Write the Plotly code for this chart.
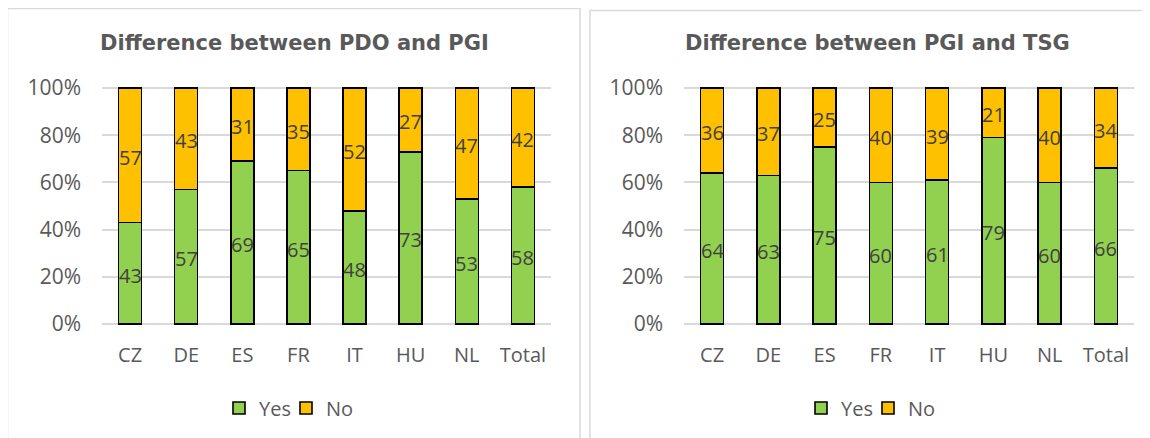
import plotly.graph_objects as go

categories = ["CZ", "DE", "ES", "FR", "IT", "HU", "NL", "Total"]
left_title = "Difference between PDO and PGI"
left_yes = [43, 57, 69, 65, 48, 73, 53, 58]
left_no = [57, 43, 31, 35, 52, 27, 47, 42]
right_title = "Difference between PGI and TSG"
right_yes = [64, 63, 75, 60, 61, 79, 60, 66]
right_no = [36, 37, 25, 40, 39, 21, 40, 34]
y_ticks = [0, 20, 40, 60, 80, 100]
y_tick_text = ["0%", "20%", "40%", "60%", "80%", "100%"]

W, H = 1150, 438
OFF = 8  # page body margin offset
GREEN = "#92D050"
YELLOW = "#FFC000"
TXT = "#595959"
LBL = "#404040"
GRID = "#D9D9D9"
TICK_FONT = dict(family="Open Sans", size=21, color=TXT)
XTICK_FONT = dict(family="Open Sans", size=20, color=TXT)
LBL_FONT = dict(family="Open Sans", size=20, color=LBL)


def px_x(v):
    return (v - OFF) / W


def px_y(v):
    return 1 - (v - OFF) / H


y0_px, y100_px = 324, 88
ymax = 102
ymin = -0.6
unit = (y0_px - y100_px) / 100
ytop_px = y0_px - unit * ymax
ybot_px = y0_px - unit * ymin
panels = [
    dict(cx=294, lx=286, yes=left_yes, no=left_no, title=left_title, ax="x", ay="y", leg="legend"),
    dict(cx=877, lx=868, yes=right_yes, no=right_no, title=right_title, ax="x2", ay="y2", leg="legend2"),
]

fig = go.Figure()
annotations = []
for p in panels:
    fig.add_trace(go.Bar(
        x=categories, y=p["yes"], name="Yes", marker=dict(color=GREEN, line=dict(color="black", width=1.6)),
        width=0.41, xaxis=p["ax"], yaxis=p["ay"], legend=p["leg"], hoverinfo="skip"))
    fig.add_trace(go.Bar(
        x=categories, y=p["no"], name="No", marker=dict(color=YELLOW, line=dict(color="black", width=1.6)),
        width=0.41, xaxis=p["ax"], yaxis=p["ay"], legend=p["leg"], hoverinfo="skip"))
    mids = [v / 2 for v in p["yes"]] + [y + n / 2 for y, n in zip(p["yes"], p["no"])]
    labels = [str(v) for v in p["yes"]] + [str(v) for v in p["no"]]
    for c, m, t in zip(categories + categories, mids, labels):
        annotations.append(dict(
            x=c, y=m, text=t, xref=p["ax"], yref=p["ay"], showarrow=False,
            xanchor="center", yanchor="middle", yshift=-2, font=LBL_FONT))
    annotations.append(dict(
        text="<b>" + p["title"] + "</b>", x=px_x(p["cx"]), y=px_y(43), xref="paper", yref="paper",
        showarrow=False, xanchor="center", yanchor="middle",
        font=dict(family="DejaVu Sans", size=21, color=TXT)))

axis_common = dict(showgrid=False, showline=False, zeroline=False, ticks="",
                   tickfont=XTICK_FONT, ticklabelstandoff=16)
yaxis_common = dict(showgrid=True, gridcolor=GRID, gridwidth=1.5, zeroline=False, showline=False,
                    range=[ymin, ymax], tickvals=y_ticks, ticktext=y_tick_text, tickfont=TICK_FONT,
                    ticklabelstandoff=20)
ydom = [px_y(ybot_px), px_y(ytop_px)]

shapes = [
    dict(type="rect", xref="paper", yref="paper", x0=px_x(7.5), x1=px_x(580), y0=px_y(470), y1=px_y(8.5),
         line=dict(color=GRID, width=1.5), fillcolor="rgba(0,0,0,0)", layer="below"),
    dict(type="rect", xref="paper", yref="paper", x0=px_x(590), x1=px_x(1180), y0=px_y(470), y1=px_y(10.5),
         line=dict(color=GRID, width=1.5), fillcolor="rgba(0,0,0,0)", layer="below"),
]

legend_common = dict(orientation="h", xanchor="center", yanchor="middle", y=px_y(408),
                     font=dict(family="Open Sans", size=20, color=TXT), bgcolor="rgba(0,0,0,0)",
                     traceorder="normal", itemwidth=30, entrywidth=22)

fig.update_layout(
    width=W, height=H, margin=dict(l=0, r=0, t=0, b=0, autoexpand=False),
    paper_bgcolor="white", plot_bgcolor="white",
    barmode="stack", showlegend=True,
    xaxis=dict(domain=[px_x(102), px_x(551)], anchor="y", **axis_common),
    xaxis2=dict(domain=[px_x(684), px_x(1134)], anchor="y2", **axis_common),
    yaxis=dict(domain=ydom, anchor="x", **yaxis_common),
    yaxis2=dict(domain=ydom, anchor="x2", **yaxis_common),
    legend=dict(x=px_x(panels[0]["lx"]), **legend_common),
    legend2=dict(x=px_x(panels[1]["lx"]), **legend_common),
    annotations=annotations, shapes=shapes,
)

fig.write_html("out.html")
